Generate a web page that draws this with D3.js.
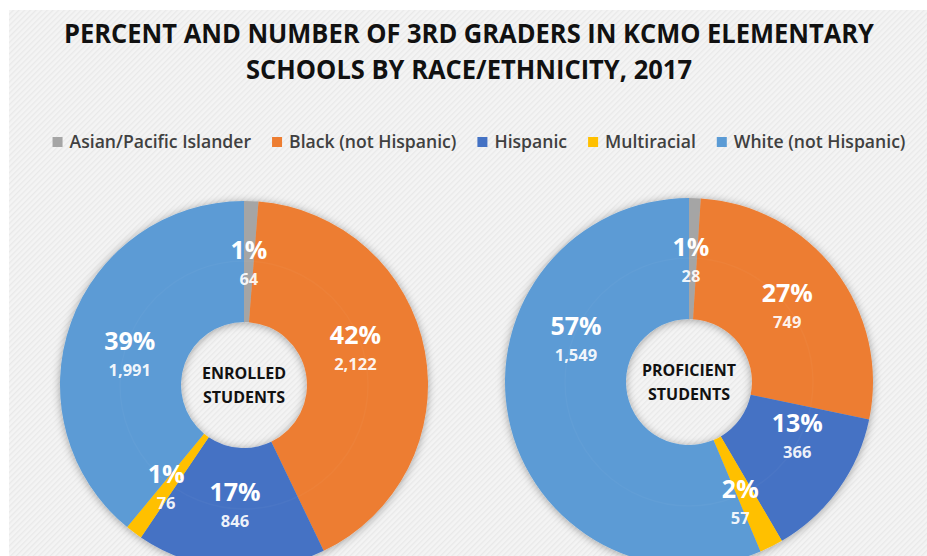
<!DOCTYPE html>
<html>
<head>
<meta charset="utf-8">
<script src="https://cdn.jsdelivr.net/npm/d3@7"></script>
<style>
  html, body { margin: 0; padding: 0; background: #ffffff; }
  svg { display: block; }
</style>
</head>
<body>
<svg id="chart" width="927" height="556"></svg>
<script>
// Race/ethnicity groups, in slice order (clockwise from 12 o'clock)
const categories = [
  "Asian/Pacific Islander",
  "Black (not Hispanic)",
  "Hispanic",
  "Multiracial",
  "White (not Hispanic)"
];
const categoryColors = ["#A5A5A5", "#ED7D31", "#4472C4", "#FFC000", "#5B9BD5"];

// Number of 3rd graders in each group
const enrolledCounts   = [64, 2122, 846, 76, 1991];
const proficientCounts = [28, 749, 366, 57, 1549];

// Published share of each group
const enrolledPercents   = ["1%", "42%", "17%", "1%", "39%"];
const proficientPercents = ["1%", "27%", "13%", "2%", "57%"];

const titleLines = [
  "PERCENT AND NUMBER OF 3RD GRADERS IN KCMO ELEMENTARY",
  "SCHOOLS BY RACE/ETHNICITY, 2017"
];
const centerLabels = [["ENROLLED", "STUDENTS"], ["PROFICIENT", "STUDENTS"]];

const W = 927, H = 556;
const FONT = "'Open Sans', 'Noto Sans', sans-serif";
const svg = d3.select("#chart");
const defs = svg.append("defs");

// Panel background with fine diagonal texture
const pat = defs.append("pattern")
  .attr("id", "stripes").attr("patternUnits", "userSpaceOnUse")
  .attr("width", 4).attr("height", 4)
  .attr("patternTransform", "rotate(45)");
pat.append("rect").attr("width", 4).attr("height", 4).attr("fill", "#f4f4f4");
pat.append("rect").attr("width", 1.3).attr("height", 4).attr("fill", "#e9e9e9");

svg.append("rect").attr("x", 9).attr("y", 10)
  .attr("width", W - 9).attr("height", H - 10)
  .attr("fill", "url(#stripes)");

// Soft shadow around each ring
const shadow = defs.append("filter").attr("id", "ringShadow")
  .attr("x", "-20%").attr("y", "-20%").attr("width", "140%").attr("height", "140%");
shadow.append("feDropShadow")
  .attr("dx", 0).attr("dy", 1).attr("stdDeviation", 4.5)
  .attr("flood-color", "#000").attr("flood-opacity", 0.35);

// Title
svg.append("g").selectAll("text").data(titleLines).join("text")
  .attr("x", 469)
  .attr("y", (d, i) => i === 0 ? 43 : 79)
  .attr("text-anchor", "middle")
  .attr("font-family", FONT).attr("font-weight", 700).attr("font-size", 26)
  .attr("fill", "#111")
  .attr("textLength", (d, i) => i === 0 ? 810 : 446)
  .attr("lengthAdjust", "spacingAndGlyphs")
  .text(d => d);

// Legend, laid out from measured text widths and centred on the panel
const color = d3.scaleOrdinal().domain(categories).range(categoryColors);
const legend = svg.append("g");
const items = legend.selectAll("g").data(categories).join("g");
items.append("rect").attr("width", 10).attr("height", 10).attr("y", -11)
  .attr("fill", d => color(d));
items.append("text").attr("x", 17)
  .attr("font-family", FONT).attr("font-weight", 600).attr("font-size", 17.6)
  .attr("fill", "#404040").text(d => d);
let lx = 0;
const itemGap = 21;
items.each(function () {
  const g = d3.select(this);
  const w = 17 + g.select("text").node().getComputedTextLength();
  g.attr("transform", `translate(${lx},0)`);
  lx += w + itemGap;
});
const legendWidth = lx - itemGap;
legend.attr("transform", `translate(${479 - legendWidth / 2},148)`);

// Doughnuts
const outerR = 184, innerR = 63;
const pie = d3.pie().sort(null).value(d => d);
const arc = d3.arc().innerRadius(innerR).outerRadius(outerR);

const donuts = [
  { cx: 244, cy: 385, counts: enrolledCounts, pcts: enrolledPercents, center: centerLabels[0],
    nudge: [[0, 0], [-10, -15], [0, -4], [-4, 2], [2, 10]] },
  { cx: 689, cy: 382, counts: proficientCounts, pcts: proficientPercents, center: centerLabels[1],
    nudge: [[-2, 0], [0, -2], [8, -19], [-4, 9], [8, -68]] }
];

donuts.forEach(dn => {
  const g = svg.append("g").attr("transform", `translate(${dn.cx},${dn.cy})`);
  const arcs = pie(dn.counts);

  g.append("g").attr("filter", "url(#ringShadow)")
    .selectAll("path").data(arcs).join("path")
    .attr("d", arc)
    .attr("fill", (d, i) => color(categories[i]));

  // faint mid-ring highlight
  g.append("circle").attr("r", 124).attr("fill", "none")
    .attr("stroke", "#fff").attr("stroke-opacity", 0.03).attr("stroke-width", 1.5);

  const labels = g.append("g").selectAll("g").data(arcs).join("g")
    .attr("transform", (d, i) => {
      const [x, y] = arc.centroid(d);
      return `translate(${x + dn.nudge[i][0]},${y + dn.nudge[i][1]})`;
    });
  labels.append("text")
    .attr("text-anchor", "middle").attr("y", -3)
    .attr("font-family", FONT).attr("font-weight", 700).attr("font-size", 25)
    .attr("fill", "#fff")
    .text((d, i) => dn.pcts[i]);
  labels.append("text")
    .attr("text-anchor", "middle").attr("y", 23)
    .attr("font-family", FONT).attr("font-weight", 700).attr("font-size", 16.5)
    .attr("fill", "#fff").attr("fill-opacity", 0.93)
    .text(d => d3.format(",")(d.data));

  g.append("g").selectAll("text").data(dn.center).join("text")
    .attr("text-anchor", "middle")
    .attr("y", (d, i) => i === 0 ? -6 : 18)
    .attr("font-family", FONT).attr("font-weight", 700).attr("font-size", 16)
    .attr("fill", "#111")
    .text(d => d);
});
</script>
</body>
</html>
